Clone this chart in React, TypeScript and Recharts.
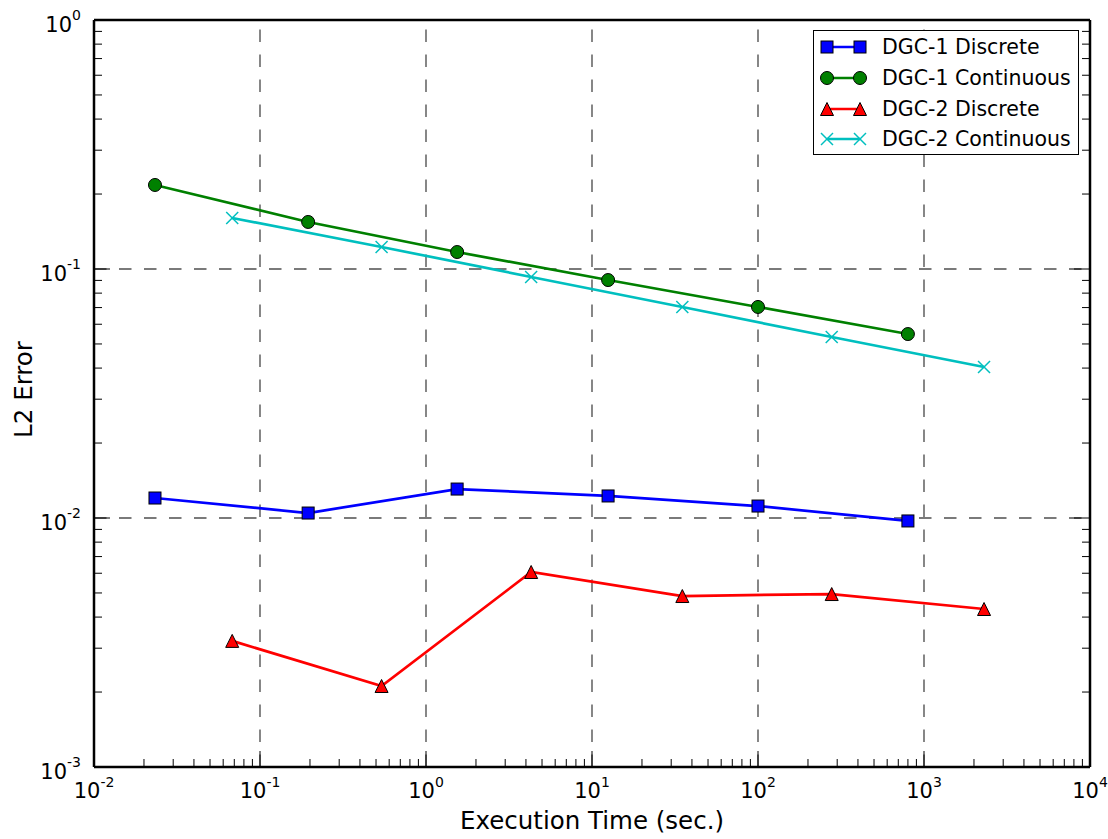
import React from 'react';
import { LineChart, Line, XAxis, YAxis, ReferenceLine, Legend } from 'recharts';

const FONT = '"DejaVu Sans", Verdana, sans-serif';

// decades shown on the log axes (tick labels are 10^exp)
const xExponents = [-2, -1, 0, 1, 2, 3, 4];
const yExponents = [-3, -2, -1, 0];

// execution times (sec.)
const dgc1Time = [0.0233, 0.195, 1.54, 12.5, 100, 800];
const dgc2Time = [0.068, 0.54, 4.3, 35, 278, 2300];

// L2 errors
const dgc1Discrete = [0.01203, 0.01047, 0.01307, 0.01226, 0.01117, 0.00973];
const dgc1Continuous = [0.2175, 0.1545, 0.117, 0.0903, 0.0704, 0.0548];
const dgc2Discrete = [0.00321, 0.002115, 0.00607, 0.00486, 0.00495, 0.00431];
const dgc2Continuous = [0.1603, 0.1226, 0.0929, 0.0704, 0.0533, 0.0404];

const seriesNames = ['DGC-1 Discrete', 'DGC-1 Continuous', 'DGC-2 Discrete', 'DGC-2 Continuous'];

const toPoints = (xs: number[], ys: number[]) => xs.map((x, i) => ({ x, y: ys[i] }));

const series = [
  { name: seriesNames[0], data: toPoints(dgc1Time, dgc1Discrete), color: '#0000ff', shape: 'square' },
  { name: seriesNames[1], data: toPoints(dgc1Time, dgc1Continuous), color: '#008000', shape: 'circle' },
  { name: seriesNames[2], data: toPoints(dgc2Time, dgc2Discrete), color: '#ff0000', shape: 'triangle' },
  { name: seriesNames[3], data: toPoints(dgc2Time, dgc2Continuous), color: '#00bfbf', shape: 'cross' },
];

const logTicks = (exps: number[]) => {
  const out: number[] = [];
  exps.forEach((e, i) => {
    out.push(Math.pow(10, e));
    if (i < exps.length - 1) {
      for (let k = 2; k <= 9; k++) out.push(k * Math.pow(10, e));
    }
  });
  return out;
};

const xTicks = logTicks(xExponents);
const yTicks = logTicks(yExponents);
const xDomain = [Math.pow(10, xExponents[0]), Math.pow(10, xExponents[xExponents.length - 1])];
const yDomain = [Math.pow(10, yExponents[0]), Math.pow(10, yExponents[yExponents.length - 1])];

const exponentOf = (v: number) => Math.round(Math.log10(v));
const isMajor = (v: number) => Math.abs(Math.log10(v) - exponentOf(v)) < 1e-6;

const MAJOR = 16;
const MINOR = 8;
const TICK_COLOR = '#000';

const PowLabel = ({ x, y, exp, anchor }: { x: number; y: number; exp: number; anchor: 'middle' | 'end' }) => (
  <text x={x} y={y} textAnchor={anchor} fontFamily={FONT} fill="#000">
    <tspan fontSize={21}>10</tspan>
    <tspan fontSize={14} dy={-11.5}>{String(exp)}</tspan>
  </text>
);

const BottomTick = (props: any) => {
  const { x, y, payload } = props;
  const v = payload.value;
  const major = isMajor(v);
  return (
    <g>
      <line x1={x} y1={y} x2={x} y2={y - (major ? MAJOR : MINOR)} stroke={TICK_COLOR} strokeWidth={1} />
      {major && <PowLabel x={x} y={y + 31} exp={exponentOf(v)} anchor="middle" />}
    </g>
  );
};

const TopTick = (props: any) => {
  const { x, y, payload } = props;
  const major = isMajor(payload.value);
  return <line x1={x} y1={y} x2={x} y2={y + (major ? MAJOR : MINOR)} stroke={TICK_COLOR} strokeWidth={1} />;
};

const LeftTick = (props: any) => {
  const { x, y, payload } = props;
  const v = payload.value;
  const major = isMajor(v);
  return (
    <g>
      <line x1={x} y1={y} x2={x + (major ? MAJOR : MINOR)} y2={y} stroke={TICK_COLOR} strokeWidth={1} />
      {major && <PowLabel x={x - 13} y={y + 11.5} exp={exponentOf(v)} anchor="end" />}
    </g>
  );
};

const RightTick = (props: any) => {
  const { x, y, payload } = props;
  const major = isMajor(payload.value);
  return <line x1={x} y1={y} x2={x - (major ? MAJOR : MINOR)} y2={y} stroke={TICK_COLOR} strokeWidth={1} />;
};

const Marker = ({ cx, cy, shape, color }: { cx: number; cy: number; shape: string; color: string }) => {
  if (shape === 'square') {
    return <rect x={cx - 6} y={cy - 6} width={12} height={12} fill={color} stroke="#000" strokeWidth={1} />;
  }
  if (shape === 'circle') {
    return <circle cx={cx} cy={cy} r={6.5} fill={color} stroke="#000" strokeWidth={1} />;
  }
  if (shape === 'triangle') {
    const h = 6.5;
    return (
      <polygon
        points={`${cx},${cy - h} ${cx - h},${cy + h} ${cx + h},${cy + h}`}
        fill={color}
        stroke="#000"
        strokeWidth={1}
      />
    );
  }
  const s = 6;
  return (
    <g stroke={color} strokeWidth={1.5}>
      <line x1={cx - s} y1={cy - s} x2={cx + s} y2={cy + s} />
      <line x1={cx - s} y1={cy + s} x2={cx + s} y2={cy - s} />
    </g>
  );
};

const renderLegend = () => (
  <div
    style={{
      boxSizing: 'border-box',
      width: 266,
      height: 125,
      border: '1.5px solid #000',
      background: '#fff',
      paddingTop: 1,
      fontFamily: FONT,
      fontSize: 20.5,
      color: '#000',
    }}
  >
    {series.map((s) => (
      <div key={s.name} style={{ display: 'flex', alignItems: 'center', height: 30.7 }}>
        <svg width={68} height={24} style={{ flex: 'none' }}>
          <line x1={13} y1={12} x2={46} y2={12} stroke={s.color} strokeWidth={2.7} />
          <Marker cx={13} cy={12} shape={s.shape} color={s.color} />
          <Marker cx={46} cy={12} shape={s.shape} color={s.color} />
        </svg>
        <span style={{ whiteSpace: 'nowrap' }}>{s.name}</span>
      </div>
    ))}
  </div>
);

const XLabel = (props: any) => {
  const { x, y, width } = props.viewBox;
  return (
    <text x={x + width / 2} y={y + 62} textAnchor="middle" fontFamily={FONT} fontSize={24.5} fill="#000">
      Execution Time (sec.)
    </text>
  );
};

const YLabel = (props: any) => {
  const { x, y, height } = props.viewBox;
  const cx = x + 32;
  const cy = y + height / 2 - 4;
  return (
    <text
      x={cx}
      y={cy}
      textAnchor="middle"
      fontFamily={FONT}
      fontSize={24.5}
      fill="#000"
      transform={`rotate(-90, ${cx}, ${cy})`}
    >
      L2 Error
    </text>
  );
};

const axisLine = { stroke: '#000', strokeWidth: 2.5 };
const gridStyle = { stroke: '#7a7a7a', strokeWidth: 1.8, strokeDasharray: '12.5 12.5' };

export default function App() {
  return (
    <div style={{ position: 'absolute', left: 0, top: 0, background: '#fff' }}>
      <LineChart width={1108} height={839} margin={{ top: 0, right: 0, bottom: 0, left: 0 }}>
        <XAxis
          xAxisId="bottom"
          orientation="bottom"
          dataKey="x"
          type="number"
          scale="log"
          domain={xDomain}
          allowDataOverflow
          ticks={xTicks}
          interval={0}
          height={72}
          tickSize={0}
          tickMargin={0}
          tickLine={false}
          axisLine={axisLine}
          tick={<BottomTick />}
          label={<XLabel />}
        />
        <XAxis
          xAxisId="top"
          orientation="top"
          type="number"
          scale="log"
          domain={xDomain}
          allowDataOverflow
          ticks={xTicks}
          interval={0}
          height={20}
          tickSize={0}
          tickMargin={0}
          tickLine={false}
          axisLine={axisLine}
          tick={<TopTick />}
        />
        <YAxis
          yAxisId="left"
          orientation="left"
          dataKey="y"
          type="number"
          scale="log"
          domain={yDomain}
          allowDataOverflow
          ticks={yTicks}
          interval={0}
          width={94}
          tickSize={0}
          tickMargin={0}
          tickLine={false}
          axisLine={axisLine}
          tick={<LeftTick />}
          label={<YLabel />}
        />
        <YAxis
          yAxisId="right"
          orientation="right"
          type="number"
          scale="log"
          domain={yDomain}
          allowDataOverflow
          ticks={yTicks}
          interval={0}
          width={18}
          tickSize={0}
          tickMargin={0}
          tickLine={false}
          axisLine={axisLine}
          tick={<RightTick />}
        />
        {xExponents.slice(1, -1).map((e) => (
          <ReferenceLine key={`gx${e}`} x={Math.pow(10, e)} xAxisId="bottom" yAxisId="left" {...gridStyle} />
        ))}
        {yExponents.slice(1, -1).map((e) => (
          <ReferenceLine key={`gy${e}`} y={Math.pow(10, e)} xAxisId="bottom" yAxisId="left" {...gridStyle} />
        ))}
        {series.map((s) => (
          <Line
            key={s.name}
            name={s.name}
            data={s.data}
            dataKey="y"
            xAxisId="bottom"
            yAxisId="left"
            type="linear"
            stroke={s.color}
            strokeWidth={2.7}
            isAnimationActive={false}
            dot={(p: any) => <Marker key={`${s.name}-${p.index}`} cx={p.cx} cy={p.cy} shape={s.shape} color={s.color} />}
            activeDot={false}
          />
        ))}
        <Legend
          layout="vertical"
          align="center"
          verticalAlign="middle"
          content={renderLegend}
          wrapperStyle={{ position: 'absolute', left: 813, top: 30, width: 266, height: 125, margin: 0 }}
        />
      </LineChart>
    </div>
  );
}
